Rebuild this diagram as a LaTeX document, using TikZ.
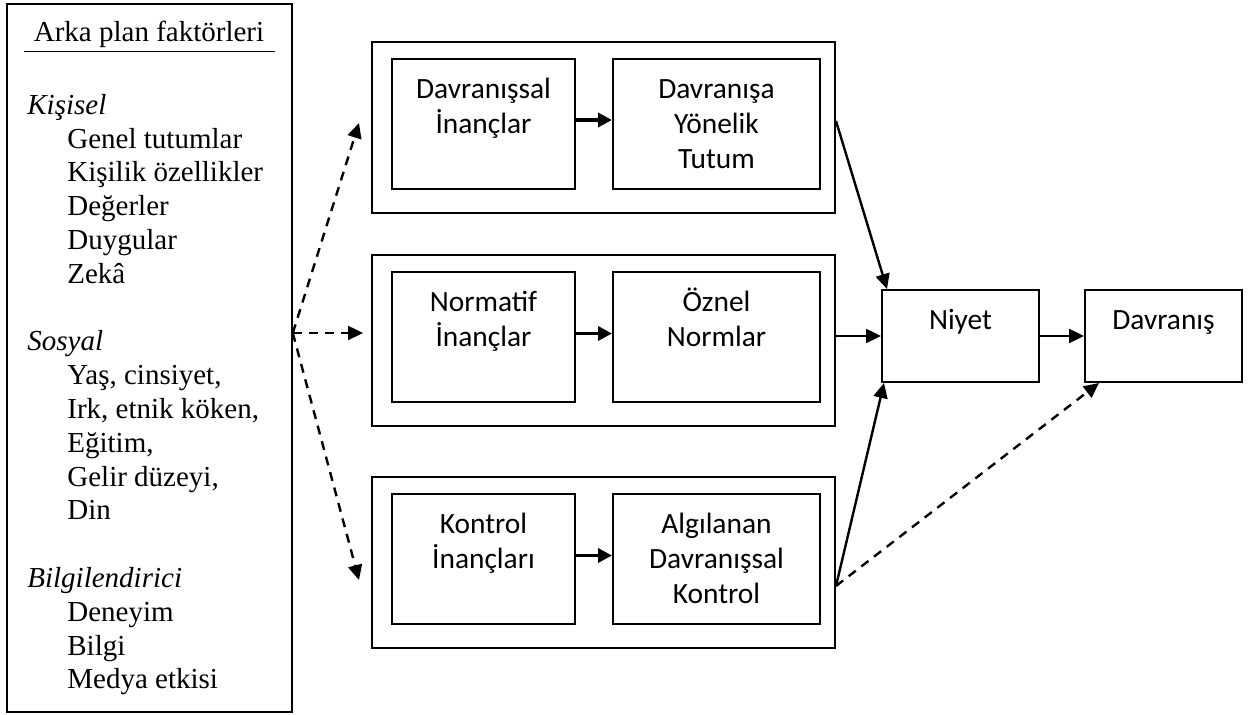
\documentclass[tikz,border=0pt]{standalone}
\usepackage{fontspec}
\setmainfont{Liberation Serif}
\newfontfamily\calibri{Carlito}
\usetikzlibrary{positioning, arrows.meta}

\begin{document}
\begin{tikzpicture}[
    x=0.5pt, y=-0.5pt,
    outer_box/.style={draw, line width=1pt, minimum width=231.5pt, minimum height=85.5pt, inner sep=0pt},
    inner_box/.style={draw, line width=1pt, minimum height=65pt, inner sep=0pt},
    end_box/.style={draw, line width=1pt, minimum width=78.5pt, minimum height=46pt, inner sep=0pt},
    box_text/.style={anchor=north, align=center, inner sep=0pt, font=\calibri\fontsize{14.7pt}{17.5pt}\selectfont},
    list_text/.style={anchor=north west, align=left, inner sep=0pt, font=\fontsize{14.5pt}{16.9pt}\selectfont},
    thick_arrow/.style={line width=1.8pt, -{Triangle[length=7pt, width=7pt]}},
    line_arrow/.style={line width=1.2pt, -{Triangle[length=7.5pt, width=7pt]}},
    dash_arrow/.style={line width=1.2pt, dash pattern=on 4.5pt off 3.5pt, -{Triangle[length=7.5pt, width=7pt]}}
]
    \useasboundingbox (0,0) rectangle (1250,715);

    % Background factors
    \node[draw, line width=0.8pt, minimum width=142.5pt, minimum height=354pt, inner sep=0pt] (bg) at (149.5,358) {};
    \node[anchor=base, inner sep=0pt, font=\fontsize{14.5pt}{16.9pt}\selectfont] (hdr) at (149,42) {Arka plan faktörleri};
    \draw[line width=0.5pt] (24,52) -- (275,52);
    \node[list_text] (lst) at (27,90.3) {\strut\textit{Kişisel}\\
        \hspace*{20pt}Genel tutumlar\\
        \hspace*{20pt}Kişilik özellikler\\
        \hspace*{20pt}Değerler\\
        \hspace*{20pt}Duygular\\
        \hspace*{20pt}Zekâ\\[16.9pt]
        \textit{Sosyal}\\
        \hspace*{20pt}Yaş, cinsiyet,\\
        \hspace*{20pt}Irk, etnik köken,\\
        \hspace*{20pt}Eğitim,\\
        \hspace*{20pt}Gelir düzeyi,\\
        \hspace*{20pt}Din\\[16.9pt]
        \textit{Bilgilendirici}\\
        \hspace*{20pt}Deneyim\\
        \hspace*{20pt}Bilgi\\
        \hspace*{20pt}Medya etkisi};

    % Belief boxes
    \node[outer_box] (out1) at (603.5,127.5) {};
    \node[outer_box] (out2) at (603.5,340.5) {};
    \node[outer_box] (out3) at (603.5,563) {};

    \node[inner_box, minimum width=91.5pt] (dbel) at (483.5,124) {};
    \node[inner_box, minimum width=103.5pt] (att) at (716.5,124) {};
    \node[inner_box, minimum width=91.5pt] (nbel) at (483.5,337.5) {};
    \node[inner_box, minimum width=103.5pt] (norm) at (716.5,337.5) {};
    \node[inner_box, minimum width=91.5pt] (cbel) at (483.5,559.5) {};
    \node[inner_box, minimum width=103.5pt] (pbc) at (716.5,559.5) {};

    \node[box_text] (dbel_t) at ([yshift=-7.75pt]dbel.north) {\strut Davranışsal\\İnançlar};
    \node[box_text] (att_t) at ([yshift=-7.75pt]att.north) {\strut Davranışa\\Yönelik\\Tutum};
    \node[box_text] (nbel_t) at ([yshift=-7.75pt]nbel.north) {\strut Normatif\\İnançlar};
    \node[box_text] (norm_t) at ([yshift=-7.75pt]norm.north) {\strut Öznel\\Normlar};
    \node[box_text] (cbel_t) at ([yshift=-7.75pt]cbel.north) {\strut Kontrol\\İnançları};
    \node[box_text] (pbc_t) at ([yshift=-7.75pt]pbc.north) {\strut Algılanan\\Davranışsal\\Kontrol};

    % Intention and behaviour
    \node[end_box] (niyet) at (960.5,336) {};
    \node[end_box] (davr) at (1163.5,336) {};
    \node[box_text] (niyet_t) at ([yshift=-7.75pt]niyet.north) {\strut Niyet};
    \node[box_text] (davr_t) at ([yshift=-7.75pt]davr.north) {\strut Davranış};

    % Arrows inside the boxes
    \draw[thick_arrow] ([yshift=2pt]dbel.east) -- ([yshift=2pt]att.west);
    \draw[thick_arrow] ([yshift=2pt]nbel.east) -- ([yshift=2pt]norm.west);
    \draw[thick_arrow] ([yshift=2pt]cbel.east) -- ([yshift=2pt]pbc.west);

    % Dashed arrows from background factors
    \coordinate (src) at ([yshift=12.5pt]bg.east);
    \draw[dash_arrow] (src) -- ([xshift=-6pt, yshift=2.25pt]out1.west);
    \draw[dash_arrow, shorten >=4pt] (src) -- (src -| out2.west);
    \draw[dash_arrow] (src) -- ([xshift=-6pt, yshift=-8.5pt]out3.west);

    % Arrows to intention and behaviour
    \coordinate (ctl) at ([yshift=-11.5pt]out3.east);
    \draw[line_arrow] ([yshift=3.25pt]out1.east) -- ([xshift=3pt]niyet.north west);
    \draw[line_arrow] (out2.east |- niyet.west) -- (niyet.west);
    \draw[line_arrow] (ctl) -- ([xshift=1.5pt]niyet.south west);
    \draw[line_arrow] (niyet) -- (davr);
    \draw[dash_arrow] (ctl) -- ([xshift=7.5pt]davr.south west);
\end{tikzpicture}
\end{document}
